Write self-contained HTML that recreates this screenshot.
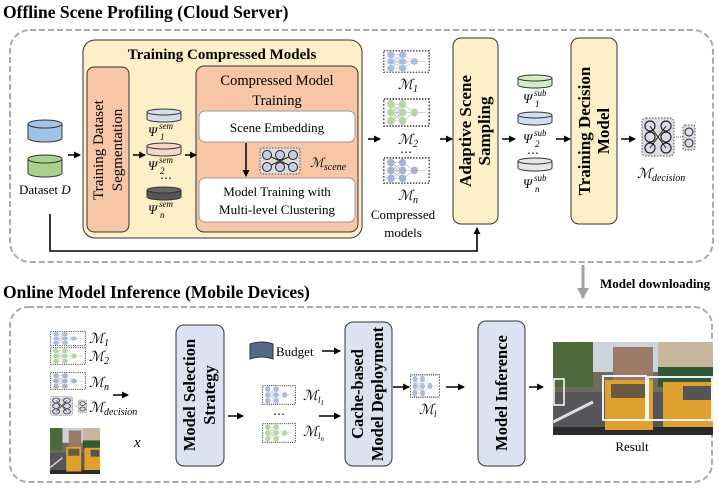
<!DOCTYPE html>
<html><head><meta charset="utf-8"><style>
html,body{margin:0;padding:0;background:#fff;}
svg{display:block;font-family:"Liberation Serif",serif;}
.b{font-weight:bold;}
.m{font-family:"Liberation Serif",serif;font-style:italic;}
</style></head><body>
<svg width="719" height="491" viewBox="0 0 719 491" xmlns="http://www.w3.org/2000/svg">
<defs>
<marker id="ar" markerWidth="8" markerHeight="8" refX="6" refY="4" orient="auto" markerUnits="userSpaceOnUse"><path d="M0,0.5 L7,4 L0,7.5 Z" fill="#000"/></marker>
<marker id="ag" markerWidth="14" markerHeight="14" refX="10" refY="7" orient="auto" markerUnits="userSpaceOnUse"><path d="M0,1 L11,7 L0,13 Z" fill="#a0a0a0"/></marker>
<symbol id="net" viewBox="0 0 48 24" preserveAspectRatio="none">
<rect x="0.8" y="0.8" width="46.4" height="22.4" fill="none" stroke="#444" stroke-width="1.4" stroke-dasharray="1.5 1.5"/>
<g stroke="#aab" stroke-width="0.5"><path d="M8 5L20 5M8 5L20 12M8 5L20 19M8 12L20 5M8 12L20 12M8 12L20 19M8 19L20 5M8 19L20 12M8 19L20 19M20 5L32 12M20 12L32 12M20 19L32 12M32 12L44 12"/></g>
<g fill="currentColor"><ellipse cx="8" cy="5" rx="3.8" ry="3.4"/><ellipse cx="8" cy="12" rx="3.8" ry="3.4"/><ellipse cx="8" cy="19" rx="3.8" ry="3.4"/><ellipse cx="20" cy="5" rx="3.8" ry="3.4"/><ellipse cx="20" cy="12" rx="3.8" ry="3.4"/><ellipse cx="20" cy="19" rx="3.8" ry="3.4"/><ellipse cx="32" cy="12" rx="3.8" ry="3.4"/></g>
</symbol>
<symbol id="dec" viewBox="0 0 56 40" preserveAspectRatio="none">
<rect x="1" y="1" width="32" height="38" rx="4" fill="#ddd" stroke="#555" stroke-dasharray="1.5 1.5"/>
<g fill="#d8dcea" stroke="#222" stroke-width="1.2"><circle cx="9" cy="9" r="5"/><circle cx="9" cy="20" r="5"/><circle cx="9" cy="31" r="5"/><circle cx="25" cy="9" r="5"/><circle cx="25" cy="20" r="5"/><circle cx="25" cy="31" r="5"/></g>
<path d="M9 9L25 31M9 31L25 9" stroke="#222"/>
<path d="M33 20L42 20" stroke="#555" stroke-dasharray="1 1"/>
<rect x="42" y="8" width="12" height="25" rx="2" fill="#ddd" stroke="#555" stroke-dasharray="1.5 1.5"/>
<g fill="#d8dcea" stroke="#222"><circle cx="48" cy="15" r="4"/><circle cx="48" cy="26" r="4"/></g>
</symbol>
<symbol id="scn" viewBox="0 0 42 28" preserveAspectRatio="none">
<rect x="1" y="1" width="40" height="26" rx="3" fill="#ddd" stroke="#555" stroke-dasharray="1.5 1.5"/>
<path d="M8 8L34 20M8 20L34 8" stroke="#222"/>
<g fill="#c8d0e4" stroke="#222"><circle cx="8" cy="8" r="4.5"/><circle cx="21" cy="8" r="4.5"/><circle cx="34" cy="8" r="4.5"/><circle cx="8" cy="20" r="4.5"/><circle cx="21" cy="20" r="4.5"/><circle cx="34" cy="20" r="4.5"/></g>
</symbol>
<symbol id="street" viewBox="0 0 160 93" preserveAspectRatio="none">
<rect width="160" height="93" fill="#6e6a60"/>
<rect width="160" height="30" fill="#c9d4dc"/>
<rect x="0" y="0" width="40" height="45" fill="#4d6a3a"/>
<rect x="60" y="5" width="40" height="45" fill="#9a7a66"/>
<rect x="105" y="0" width="55" height="40" fill="#c8b79e"/>
<rect x="105" y="25" width="55" height="20" fill="#2f5a3a"/>
<rect x="0" y="50" width="160" height="43" fill="#55555a"/>
<path d="M0 80L40 60" stroke="#ddd" stroke-width="3"/>
<rect x="0" y="85" width="160" height="8" fill="#2a2a2a"/>
<rect x="52" y="38" width="48" height="50" fill="#e0a030"/>
<rect x="58" y="42" width="36" height="14" fill="#6a5a40"/>
<rect x="110" y="40" width="50" height="45" fill="#e0a030"/>
<rect x="130" y="44" width="28" height="14" fill="#555"/>
</symbol>
</defs>

<text x="3" y="18" class="b" font-size="17.5">Offline Scene Profiling (Cloud Server)</text>
<rect x="10" y="30" width="703" height="232" rx="20" fill="none" stroke="#aaa" stroke-width="2" stroke-dasharray="6 3"/>

<rect x="83" y="40" width="279" height="198" rx="12" fill="#fdf0c8" stroke="#333" stroke-width="1"/>
<text x="222" y="59" text-anchor="middle" class="b" font-size="15">Training Compressed Models</text>
<rect x="87" y="67" width="42" height="165" rx="7" fill="#f6c6a6" stroke="#333"/>
<text transform="translate(103,150) rotate(-90)" text-anchor="middle" font-size="15">Training Dataset</text>
<text transform="translate(122,150) rotate(-90)" text-anchor="middle" font-size="15">Segmentation</text>
<rect x="196" y="66" width="162" height="166" rx="8" fill="#f6c6a6" stroke="#333"/>
<text x="277" y="85" text-anchor="middle" font-size="14.5">Compressed Model</text>
<text x="277" y="105" text-anchor="middle" font-size="14.5">Training</text>
<rect x="199" y="111" width="156" height="31" rx="6" fill="#fff" stroke="#999"/>
<text x="277" y="132" text-anchor="middle" font-size="13">Scene Embedding</text>
<rect x="199" y="178" width="156" height="44" rx="6" fill="#fff" stroke="#999"/>
<text x="277" y="196" text-anchor="middle" font-size="13">Model Training with</text>
<text x="277" y="214" text-anchor="middle" font-size="13">Multi-level Clustering</text>
<line x1="246" y1="143" x2="246" y2="176" stroke="#000" stroke-width="1.5" marker-end="url(#ar)"/>
<use href="#scn" x="259" y="147" width="42" height="28"/>
<text x="310" y="167" class="m" font-size="13">ℳ<tspan font-size="10" dy="3">scene</tspan></text>

<g stroke="#333">
<path d="M28 124 v14 a17 4 0 0 0 34 0 v-14" fill="#9fc3e6"/><ellipse cx="45" cy="124" rx="17" ry="4" fill="#9fc3e6"/>
<path d="M28 159 v14 a17 4 0 0 0 34 0 v-14" fill="#a9d18e"/><ellipse cx="45" cy="159" rx="17" ry="4" fill="#a9d18e"/>
</g>
<text x="19" y="194" font-size="13">Dataset <tspan font-style="italic">D</tspan></text>
<g stroke="#333">
<path d="M147 112 v7 a17 3 0 0 0 34 0 v-7" fill="#d6dce8"/><ellipse cx="164" cy="112" rx="17" ry="3" fill="#d6dce8"/>
<path d="M147 146 v7 a17 3 0 0 0 34 0 v-7" fill="#f9d8c8"/><ellipse cx="164" cy="146" rx="17" ry="3" fill="#f9d8c8"/>
<path d="M147 190 v7 a17 3 0 0 0 34 0 v-7" fill="#555"/><ellipse cx="164" cy="190" rx="17" ry="3" fill="#666"/>
</g>
<g class="m">
<text x="148" y="136" font-size="13">Ψ</text><text x="159" y="129" font-size="9">sem</text><text x="160" y="140" font-size="9">1</text>
<text x="148" y="170" font-size="13">Ψ</text><text x="159" y="163" font-size="9">sem</text><text x="160" y="174" font-size="9">2</text>
<text x="160" y="182" font-style="normal" font-size="12">⋯</text>
<text x="148" y="214" font-size="13">Ψ</text><text x="159" y="207" font-size="9">sem</text><text x="160" y="218" font-size="9">n</text>
</g>
<g stroke="#000" stroke-width="1.5" marker-end="url(#ar)">
<line x1="68" y1="155" x2="80" y2="155"/><line x1="133" y1="155" x2="145" y2="155"/><line x1="185" y1="155" x2="196" y2="155"/>
<line x1="368" y1="139" x2="380" y2="139"/><line x1="440" y1="139" x2="452" y2="139"/><line x1="502" y1="139" x2="515" y2="139"/>
<line x1="556" y1="139" x2="570" y2="139"/><line x1="621" y1="139" x2="635" y2="139"/>
</g>
<use href="#net" x="383" y="50" width="47" height="23" style="color:#a9bde4"/>
<use href="#net" x="383" y="98" width="47" height="29" style="color:#b5d6a0"/>
<use href="#net" x="383" y="157" width="47" height="27" style="color:#a7b3d0"/>
<g class="m" font-size="14">
<text x="398" y="89">ℳ<tspan font-size="10" dy="3">1</tspan></text>
<text x="398" y="144">ℳ<tspan font-size="10" dy="3">2</tspan></text>
<text x="400" y="156" font-style="normal" font-size="12">⋯</text>
<text x="398" y="200">ℳ<tspan font-size="10" dy="3">n</tspan></text>
</g>
<text x="403" y="219" text-anchor="middle" font-size="13">Compressed</text>
<text x="403" y="237" text-anchor="middle" font-size="13">models</text>

<rect x="453" y="38" width="45" height="186" rx="8" fill="#fdf0c8" stroke="#333"/>
<text transform="translate(471,131) rotate(-90)" text-anchor="middle" class="b" font-size="17">Adaptive Scene</text>
<text transform="translate(490,131) rotate(-90)" text-anchor="middle" class="b" font-size="17">Sampling</text>
<g stroke="#333">
<path d="M518 78 v7 a17 3 0 0 0 34 0 v-7" fill="#d6ebcc"/><ellipse cx="535" cy="78" rx="17" ry="3" fill="#d6ebcc"/>
<path d="M518 115 v7 a17 3 0 0 0 34 0 v-7" fill="#d0e0f2"/><ellipse cx="535" cy="115" rx="17" ry="3" fill="#d0e0f2"/>
<path d="M518 161 v7 a17 3 0 0 0 34 0 v-7" fill="#e6e6e6"/><ellipse cx="535" cy="161" rx="17" ry="3" fill="#e6e6e6"/>
</g>
<g class="m">
<text x="523" y="103" font-size="13">Ψ</text><text x="534" y="96" font-size="9">sub</text><text x="535" y="107" font-size="9">1</text>
<text x="523" y="143" font-size="13">Ψ</text><text x="534" y="136" font-size="9">sub</text><text x="535" y="147" font-size="9">2</text>
<text x="527" y="157" font-style="normal" font-size="12">⋯</text>
<text x="523" y="188" font-size="13">Ψ</text><text x="534" y="181" font-size="9">sub</text><text x="535" y="192" font-size="9">n</text>
</g>
<rect x="571" y="38" width="46" height="186" rx="8" fill="#fdf0c8" stroke="#333"/>
<text transform="translate(590,131) rotate(-90)" text-anchor="middle" class="b" font-size="17">Training Decision</text>
<text transform="translate(609,131) rotate(-90)" text-anchor="middle" class="b" font-size="17">Model</text>
<use href="#dec" x="641" y="117" width="56" height="40"/>
<text x="637" y="178" class="m" font-size="14">ℳ<tspan font-size="10" dy="3">decision</tspan></text>

<polyline points="50,214 50,251 477,251 477,228" fill="none" stroke="#000" stroke-width="1.6" marker-end="url(#ar)"/>

<line x1="583" y1="265" x2="583" y2="298" stroke="#a0a0a0" stroke-width="3" marker-end="url(#ag)"/>
<text x="600" y="288" class="b" font-size="13">Model downloading</text>

<text x="3" y="298" class="b" font-size="17.5">Online Model Inference (Mobile Devices)</text>
<rect x="10" y="307" width="702" height="175" rx="18" fill="none" stroke="#aaa" stroke-width="2" stroke-dasharray="6 3"/>

<use href="#net" x="50" y="331" width="36" height="15" style="color:#a9bde4"/>
<use href="#net" x="50" y="347" width="36" height="18" style="color:#b5d6a0"/>
<use href="#net" x="50" y="372" width="36" height="18" style="color:#a7b3d0"/>
<use href="#dec" x="50" y="396" width="38" height="20"/>
<g class="m" font-size="14">
<text x="89" y="343">ℳ<tspan font-size="10" dy="3">1</tspan></text>
<text x="89" y="361">ℳ<tspan font-size="10" dy="3">2</tspan></text>
<text x="89" y="387">ℳ<tspan font-size="10" dy="3">n</tspan></text>
<text x="89" y="412">ℳ<tspan font-size="10" dy="3">decision</tspan></text>
<text x="134" y="447" font-size="15">x</text>
</g>
<use href="#street" x="50" y="428" width="50" height="46"/>
<line x1="113" y1="395" x2="128" y2="395" stroke="#000" stroke-width="1.5" marker-end="url(#ar)"/>

<rect x="176" y="325" width="48" height="141" rx="8" fill="#dde2f3" stroke="#333"/>
<text transform="translate(195,395) rotate(-90)" text-anchor="middle" class="b" font-size="16.5">Model Selection</text>
<text transform="translate(215,395) rotate(-90)" text-anchor="middle" class="b" font-size="16.5">Strategy</text>

<path d="M250 344 q12 -4 23 0 v15 q-12 -4 -23 0 z" fill="#56698a" stroke="#333"/>
<text x="276" y="356" font-size="13">Budget</text>
<line x1="322" y1="351" x2="340" y2="351" stroke="#000" stroke-width="1.5" marker-end="url(#ar)"/>
<line x1="228" y1="416" x2="243" y2="416" stroke="#000" stroke-width="1.5" marker-end="url(#ar)"/>
<use href="#net" x="262" y="385" width="34" height="20" style="color:#a9bde4"/>
<use href="#net" x="262" y="423" width="34" height="20" style="color:#b5d6a0"/>
<text x="273" y="418" font-size="12">⋯</text>
<g class="m" font-size="14">
<text x="303" y="400">ℳ<tspan font-size="9" dy="3">l</tspan><tspan font-size="7" dy="2">1</tspan></text>
<text x="303" y="436">ℳ<tspan font-size="9" dy="3">l</tspan><tspan font-size="7" dy="2">n</tspan></text>
</g>
<line x1="319" y1="416" x2="340" y2="416" stroke="#000" stroke-width="1.5" marker-end="url(#ar)"/>

<rect x="345" y="322" width="47" height="144" rx="8" fill="#dde2f3" stroke="#333"/>
<text transform="translate(363,394) rotate(-90)" text-anchor="middle" class="b" font-size="16.5">Cache-based</text>
<text transform="translate(383,394) rotate(-90)" text-anchor="middle" class="b" font-size="16.5">Model Deployment</text>
<line x1="393" y1="387" x2="409" y2="387" stroke="#000" stroke-width="1.5" marker-end="url(#ar)"/>
<use href="#net" x="410" y="374" width="30" height="24" style="color:#a9bde4"/>
<text x="419" y="414" class="m" font-size="14">ℳ<tspan font-size="9" dy="3">l</tspan></text>
<line x1="446" y1="387" x2="464" y2="387" stroke="#000" stroke-width="1.5" marker-end="url(#ar)"/>

<rect x="478" y="321" width="47" height="145" rx="8" fill="#dde2f3" stroke="#333"/>
<text transform="translate(507,393) rotate(-90)" text-anchor="middle" class="b" font-size="16.5">Model Inference</text>
<line x1="529" y1="387" x2="543" y2="387" stroke="#000" stroke-width="1.5" marker-end="url(#ar)"/>

<use href="#street" x="553" y="342" width="160" height="93"/>
<rect x="603" y="376" width="43" height="44" fill="none" stroke="#fff" stroke-width="1.8"/>
<rect x="648" y="377" width="64" height="43" fill="none" stroke="#fff" stroke-width="1.8"/>
<rect x="554" y="379" width="10" height="26" fill="none" stroke="#fff" stroke-width="1.5"/>
<text x="632" y="451" text-anchor="middle" font-size="13">Result</text>
</svg>
</body></html>
